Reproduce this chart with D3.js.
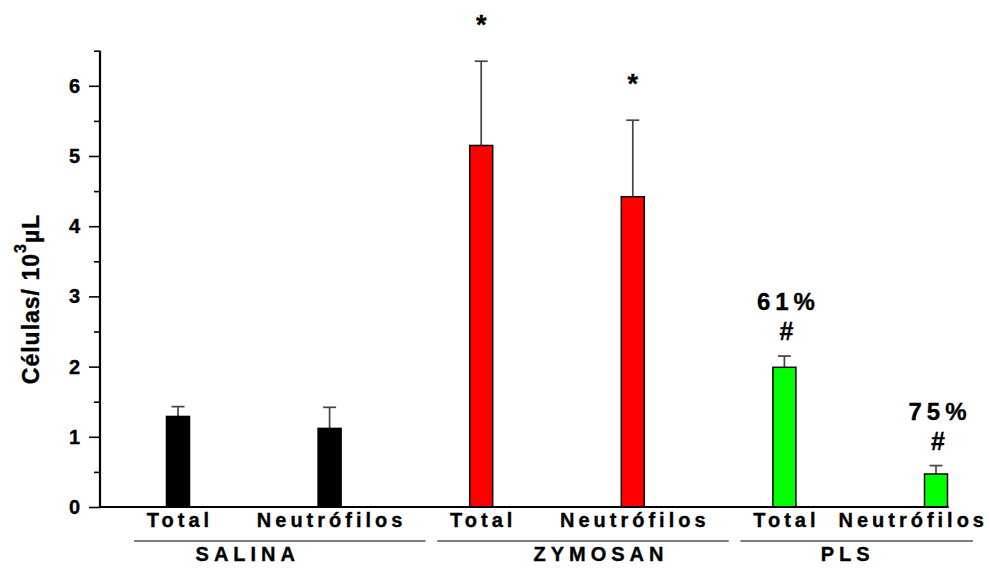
<!DOCTYPE html>
<html>
<head>
<meta charset="utf-8">
<script src="https://cdn.jsdelivr.net/npm/d3@7"></script>
<style>
  html, body { margin: 0; padding: 0; background: #fff; }
  svg { display: block; font-family: "Liberation Sans", Arial, sans-serif; }
  text { stroke: #000; stroke-width: 0.35px; }
</style>
</head>
<body>
<svg id="chart" width="990" height="570"></svg>
<script>
// ---- data ----
const groups = ["SALINA", "ZYMOSAN", "PLS"];
const subcats = ["Total", "Neutrófilos"];
const categories = ["SALINA|Total", "SALINA|Neutrófilos", "ZYMOSAN|Total", "ZYMOSAN|Neutrófilos", "PLS|Total", "PLS|Neutrófilos"];
const values = [1.29, 1.12, 5.15, 4.42, 1.99, 0.47];
const errors = [0.14, 0.30, 1.20, 1.09, 0.16, 0.12];
const signif = ["", "", "*", "*", "#", "#"];
const percents = ["", "", "", "", "61%", "75%"];
const groupColors = ["#000000", "#ff0000", "#00ff00"];
const yTicks = [0, 1, 2, 3, 4, 5, 6];
const yMinorTicks = [0.5, 1.5, 2.5, 3.5, 4.5, 5.5, 6.5];
const groupLabelDx = [-32, 18, -9];

// ---- layout ----
const svg = d3.select("#chart");
const axisX = 100, baseY = 507, topY = 50.7;
const barW = 23;

const x = d3.scalePoint().domain(categories).range([178, 936]);
const y = d3.scaleLinear().domain([0, 6.5]).range([baseY, topY]);

const data = categories.map((c, i) => ({
  key: c, group: c.split("|")[0], sub: c.split("|")[1],
  g: Math.floor(i / 2), v: values[i], e: errors[i], s: signif[i], p: percents[i]
}));

// y axis
const yAxis = svg.append("g").attr("transform", `translate(${axisX},0)`)
  .call(d3.axisLeft(y).tickValues(yTicks).tickSize(11).tickPadding(9).tickFormat(d3.format("d")));
yAxis.select(".domain").remove();
yAxis.selectAll(".tick line").attr("stroke", "#000").attr("stroke-width", 1.6);
yAxis.selectAll(".tick text").attr("font-size", 20).attr("font-weight", "bold").attr("fill", "#000")
  .attr("font-family", "Liberation Sans, Arial, sans-serif");

const yMinor = svg.append("g").attr("transform", `translate(${axisX},0)`)
  .call(d3.axisLeft(y).tickValues(yMinorTicks).tickSize(6).tickFormat(""));
yMinor.select(".domain").remove();
yMinor.selectAll(".tick line").attr("stroke", "#000").attr("stroke-width", 1.6);

svg.append("line").attr("x1", axisX).attr("x2", axisX).attr("y1", y(6.5)).attr("y2", y(0))
  .attr("stroke", "#000").attr("stroke-width", 2.2);

// error bars
const eb = svg.append("g");
data.forEach(d => {
  const cx = x(d.key);
  eb.append("line").attr("x1", cx).attr("x2", cx).attr("y1", y(d.v)).attr("y2", y(d.v + d.e))
    .attr("stroke", "#444").attr("stroke-width", 1.7);
  eb.append("line").attr("x1", cx - 6.5).attr("x2", cx + 6.5).attr("y1", y(d.v + d.e)).attr("y2", y(d.v + d.e))
    .attr("stroke", "#444").attr("stroke-width", 1.7);
});

// bars
svg.append("g").selectAll("rect").data(data).join("rect")
  .attr("x", d => x(d.key) - barW / 2)
  .attr("width", barW)
  .attr("y", d => y(d.v))
  .attr("height", d => y(0) - y(d.v))
  .attr("fill", d => groupColors[d.g])
  .attr("stroke", "#000")
  .attr("stroke-width", 1.5);

// x axis line
svg.append("line").attr("x1", axisX - 1).attr("x2", x(categories[categories.length - 1]) + barW / 2 + 1)
  .attr("y1", y(0)).attr("y2", y(0)).attr("stroke", "#000").attr("stroke-width", 2.2);

// significance marks
data.forEach(d => {
  const cx = x(d.key);
  const top = y(d.v + d.e);
  if (d.s === "*") {
    svg.append("text").attr("x", cx).attr("y", top - 27).attr("text-anchor", "middle")
      .attr("font-size", 27).attr("font-weight", "bold").text(d.s);
  } else if (d.s === "#") {
    svg.append("text").attr("x", cx + 2).attr("y", top - 16).attr("text-anchor", "middle")
      .attr("font-size", 25).attr("font-weight", "bold").text(d.s);
  }
  if (d.p) {
    svg.append("text").attr("x", cx + 4).attr("y", top - 46).attr("text-anchor", "middle")
      .attr("font-size", 24).attr("font-weight", "bold").attr("letter-spacing", 5).text(d.p);
  }
});

// subcategory labels
data.forEach(d => {
  const t = svg.append("text").attr("x", x(d.key) + 2).attr("y", 527).attr("text-anchor", "middle")
    .attr("font-size", 20).attr("font-weight", "bold").attr("letter-spacing", 4).text(d.sub);
  const bb = t.node().getBBox();
  if (bb.x + bb.width > 990) {
    t.attr("x", x(d.key) - (bb.x + bb.width - 990));
  }
});

// group lines + labels
groups.forEach((g, gi) => {
  const a = x(categories[gi * 2]), b = x(categories[gi * 2 + 1]);
  const l = a - 44, r = Math.min(b + 96, 973);
  svg.append("line").attr("x1", l).attr("x2", r).attr("y1", 541).attr("y2", 541)
    .attr("stroke", "#000").attr("stroke-width", 1.2);
  svg.append("text").attr("x", (l + r) / 2 + groupLabelDx[gi]).attr("y", 561).attr("text-anchor", "middle")
    .attr("font-size", 20).attr("font-weight", "bold").attr("letter-spacing", 5).text(g);
});

// y title
const title = svg.append("text")
  .attr("transform", "translate(39,299) rotate(-90)")
  .attr("text-anchor", "middle")
  .attr("font-size", 23).attr("font-weight", "bold").attr("letter-spacing", 1);
title.append("tspan").text("Células/ 10");
title.append("tspan").attr("font-size", 16).attr("dy", -13).text("3");
title.append("tspan").attr("dy", 13).text("µL");
</script>
</body>
</html>
